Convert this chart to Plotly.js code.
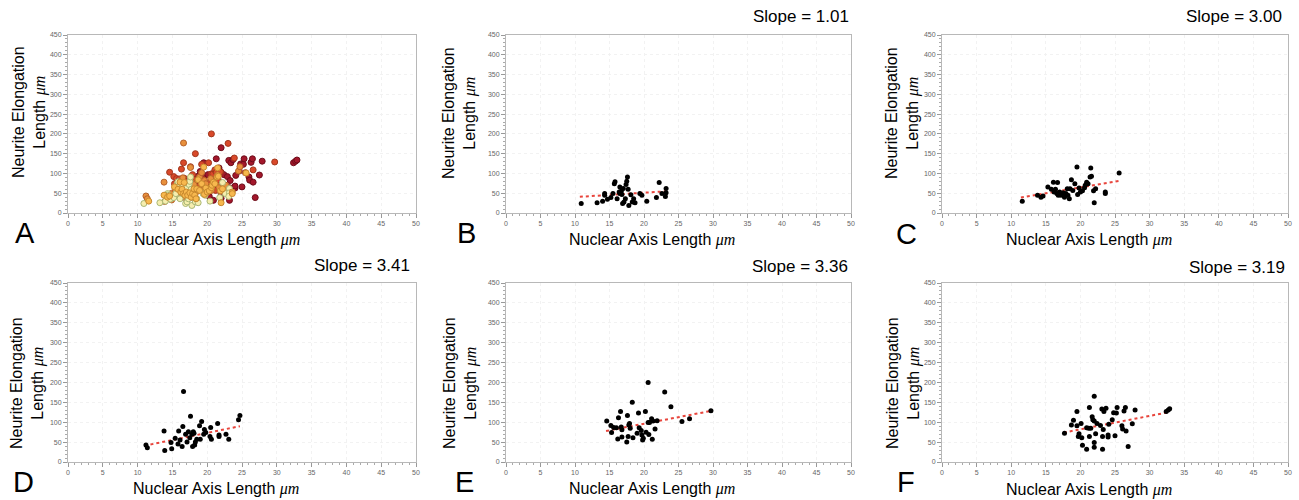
<!DOCTYPE html>
<html><head><meta charset="utf-8">
<script src="https://cdn.plot.ly/plotly-3.0.1.min.js"></script>
<style>html,body{margin:0;padding:0;background:#fff}</style>
</head><body><div id="chart" style="width:1299px;height:500px"></div>
<script>
// ---------- data ----------
const panelLetters = ['A','B','C','D','E','F'];
const slopeLabels = ['', 'Slope = 1.01', 'Slope = 3.00', 'Slope = 3.41', 'Slope = 3.36', 'Slope = 3.19'];
const xTickVals = [0,5,10,15,20,25,30,35,40,45,50];
const yTickVals = [0,50,100,150,200,250,300,350,400,450];
const xTitle = 'Nuclear Axis Length ';
const yTitleLine1 = 'Neurite Elongation';
const yTitleLine2 = 'Length ';
const unitText = 'μm';

const bX = [10.9,13.2,14.0,14.3,14.3,14.7,15.2,15.5,15.7,15.8,16.1,16.4,16.5,16.5,16.7,16.8,16.9,17.0,17.1,17.3,17.4,17.5,17.6,17.7,17.8,18.1,18.3,18.5,18.7,19.4,19.7,20.4,21.8,22.2,22.6,23.2,23.2,23.1];
const bY = [24,26,30,49,45,35,39,49,74,79,36,53,66,49,55,47,24,62,28,36,72,80,91,60,19,46,28,36,26,49,45,30,39,77,49,62,51,42];
const cX = [11.6,13.8,14.3,14.6,15.3,15.8,16.1,16.2,16.4,16.6,16.7,16.8,17.0,17.2,17.5,17.7,17.9,18.1,18.2,18.4,18.5,18.7,18.9,19.2,19.5,19.6,19.8,20.0,20.3,20.6,20.7,20.9,21.1,21.4,21.5,21.6,21.9,22.0,22.2,23.6,23.6,25.6];
const cY = [30,45,40,43,66,60,78,53,60,49,77,45,53,45,51,40,49,61,45,36,61,84,57,74,116,47,63,53,56,64,70,78,74,91,114,93,56,26,61,53,49,101];
const dX = [11.2,11.4,13.8,13.9,14.8,14.9,15.4,15.9,15.8,16.1,16.5,16.6,16.4,16.9,17.1,17.3,17.6,17.5,17.8,18.0,17.9,18.1,18.2,18.3,18.5,18.9,19.2,19.0,19.5,19.6,19.8,20.4,20.5,20.6,21.5,21.7,21.7,22.7,23.1,24.5,24.7];
const dY = [43,36,78,29,49,33,60,78,45,55,89,177,39,70,50,76,115,61,70,76,39,72,43,50,57,91,102,57,70,82,74,64,87,57,97,68,64,70,57,106,117];
const eX = [14.6,15.2,15.3,15.6,16.0,16.3,16.2,16.6,16.7,16.8,16.8,17.5,17.6,17.7,17.8,17.9,18.0,18.3,18.4,19.0,19.2,19.3,19.6,19.7,19.8,19.9,20.2,20.3,20.6,20.6,20.7,20.8,21.1,21.2,21.3,21.6,21.9,23.0,23.9,25.5,26.6,29.7];
const eY = [103,92,74,87,86,111,58,127,88,81,63,50,117,64,93,97,85,150,61,72,123,86,79,68,55,60,127,75,200,99,69,99,109,57,103,83,104,176,139,102,109,129];
const fX = [17.7,18.7,19.0,19.5,19.5,19.7,19.8,20.1,20.2,20.3,20.9,20.9,21.2,21.3,21.3,21.5,21.7,21.8,22.0,22.0,22.0,22.0,22.2,22.4,22.9,23.1,23.2,23.2,23.3,23.4,23.7,24.0,24.0,24.1,24.6,24.8,25.0,25.2,25.3,26.0,26.1,26.3,26.5,26.6,26.9,27.5,27.9,32.4,32.7,32.9];
const fY = [72,93,105,127,91,64,71,97,61,42,32,86,85,64,137,85,114,106,103,165,49,37,71,97,92,133,32,64,82,127,135,63,68,95,106,124,66,123,137,91,83,128,137,78,39,96,131,127,131,134];

// trend line endpoints
const trendX = [null, [10.7,23.3], [11.4,25.6], [11.0,24.7], [14.5,29.9], [17.6,32.7]];
const trendY = [null, [41,55], [39,81], [41,90], [78,129], [74,125]];

// colours of the groups (B..F) in the combined panel A
const groupFill = ['#f6eeae','#f7b84e','#e8903c','#d9492a','#a3172b'];
const groupLine = ['#a9b775','#c98a2e','#b5622a','#a0361c','#6e0d1a'];
// drawing order of the groups in panel A (indices into B..F)
const groupOrder = [4,3,2,0,1];

// ---------- layout helpers ----------
const W = 1299, H = 500;
const cols = [[68,416],[506,851],[942,1288]];
const rows = [[35,213],[283,462]];
const yTitlePos = [[30,112],[460,113],[903,113],[27,383],[460,383],[903,383]];
const xTitlePos = [[217,240],[652,240],[1089,240],[216,489],[652,489],[1089,490]];
const letterPos = [[25,233],[466,233],[906,234]];
const letterX2 = [23,464,906];
const slopePos = [null,[801,16],[1234,16],[362,265],[800,266],[1237,267]];

const groupsX = [bX,cX,dX,eX,fX];
const groupsY = [bY,cY,dY,eY,fY];

const traces = [];
const layout = {
  width: W, height: H,
  margin: {l:0,r:0,t:0,b:0},
  paper_bgcolor: '#ffffff', plot_bgcolor: '#ffffff',
  showlegend: false,
  font: {family: 'Liberation Sans, Arial, sans-serif', color: '#000'},
  annotations: []
};

const unitHTML = '<i><span style="font-family:\'Liberation Serif\',serif">' + unitText + '</span></i>';
const px = v => v / W;
const py = v => 1 - v / H;

for (let p = 0; p < 6; p++) {
  const r = Math.floor(p / 3), c = p % 3;
  const suf = p === 0 ? '' : String(p + 1);
  const xa = 'xaxis' + suf, ya = 'yaxis' + suf;
  const axCommon = {
    showline: true, mirror: true, linecolor: '#b8b8b8', linewidth: 1,
    ticks: 'outside', ticklen: 4, tickcolor: '#999', tickwidth: 1,
    tickfont: {size: 7, color: '#666666'},
    showgrid: true, gridcolor: '#f2f2f2', griddash: 'dot', gridwidth: 1,
    zeroline: false, fixedrange: true,
  };
  layout[xa] = Object.assign({}, axCommon, {
    domain: [px(cols[c][0]), px(cols[c][1])], range: [0,50],
    tickmode: 'array', tickvals: xTickVals, anchor: 'y' + suf,
    minor: {dtick: 1, ticks: 'outside', ticklen: 2, tickcolor: '#aaa', showgrid: false}
  });
  layout[ya] = Object.assign({}, axCommon, {
    domain: [py(rows[r][1]), py(rows[r][0])], range: [0,450],
    tickmode: 'array', tickvals: yTickVals, anchor: 'x' + suf,
    minor: {dtick: 10, ticks: 'outside', ticklen: 2, tickcolor: '#aaa', showgrid: false}
  });

  if (p === 0) {
    for (const g of groupOrder) {
      traces.push({
        type: 'scatter', mode: 'markers', x: groupsX[g], y: groupsY[g],
        xaxis: 'x', yaxis: 'y', hoverinfo: 'skip',
        marker: {size: 6, color: groupFill[g], line: {width: 1, color: groupLine[g]}}
      });
    }
  } else {
    traces.push({
      type: 'scatter', mode: 'lines', x: trendX[p], y: trendY[p],
      xaxis: 'x' + suf, yaxis: 'y' + suf, hoverinfo: 'skip',
      line: {color: '#e8453c', width: 2, dash: 'dot'}
    });
    traces.push({
      type: 'scatter', mode: 'markers', x: groupsX[p-1], y: groupsY[p-1],
      xaxis: 'x' + suf, yaxis: 'y' + suf, hoverinfo: 'skip',
      marker: {size: 5, color: '#000'}
    });
    layout.annotations.push({
      xref: 'paper', yref: 'paper', x: px(slopePos[p][0]), y: py(slopePos[p][1]),
      xanchor: 'center', yanchor: 'middle', showarrow: false,
      text: slopeLabels[p], font: {size: 17, color: '#000'}
    });
  }

  layout.annotations.push({
    xref: 'paper', yref: 'paper', x: px(yTitlePos[p][0]), y: py(yTitlePos[p][1]),
    xanchor: 'center', yanchor: 'middle', showarrow: false, textangle: -90,
    text: yTitleLine1 + '<br>' + yTitleLine2 + unitHTML, font: {size: 16, color: '#000'}
  });
  layout.annotations.push({
    xref: 'paper', yref: 'paper', x: px(xTitlePos[p][0]), y: py(xTitlePos[p][1]),
    xanchor: 'center', yanchor: 'middle', showarrow: false,
    text: xTitle + unitHTML, font: {size: 16, color: '#000'}
  });
  if (r === 0) {
    layout.annotations.push({
      xref: 'paper', yref: 'paper', x: px(letterPos[c][0]), y: py(letterPos[c][1]),
      xanchor: 'center', yanchor: 'middle', showarrow: false,
      text: panelLetters[p], font: {size: 29, color: '#000'}
    });
  } else {
    layout.annotations.push({
      xref: 'paper', yref: 'paper', x: px(letterX2[c]), y: 0,
      xanchor: 'center', yanchor: 'bottom', showarrow: false,
      text: panelLetters[p], font: {size: 29, color: '#000'}
    });
  }
}

Plotly.newPlot('chart', traces, layout, {staticPlot: true, displayModeBar: false});
</script></body></html>
